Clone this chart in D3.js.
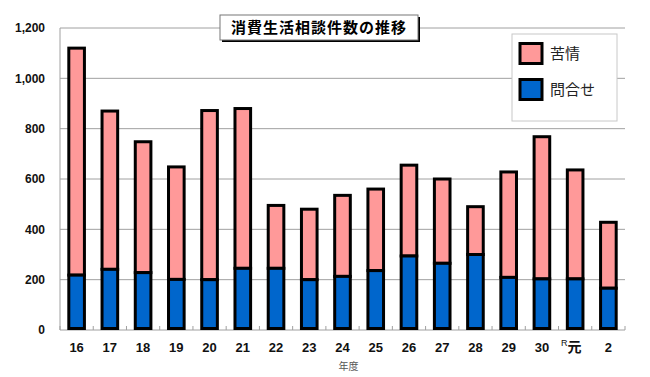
<!DOCTYPE html>
<html>
<head>
<meta charset="utf-8">
<script src="https://cdn.jsdelivr.net/npm/d3@7"></script>
<style>
  body { margin: 0; background: #fff; }
  text { font-family: "Liberation Sans", Arial, sans-serif; }
  .jp { font-family: "Noto Sans CJK JP", sans-serif; }
</style>
</head>
<body>
<div id="chart"></div>
<script>
// 年度
const years = ["16","17","18","19","20","21","22","23","24","25","26","27","28","29","30","元","2"];
// 問合せ (blue, bottom)
const inquiries = [218, 241, 228, 201, 200, 245, 245, 200, 213, 236, 294, 265, 300, 209, 203, 203, 166];
// 苦情 (pink, top)
const complaints = [902, 629, 520, 447, 672, 635, 250, 280, 322, 324, 361, 335, 190, 419, 565, 433, 262];
const yTicks = [0, 200, 400, 600, 800, 1000, 1200];

const W = 650, H = 377;
const margin = {top: 28, right: 25, bottom: 47, left: 60},
      width = W - margin.left - margin.right,
      height = H - margin.top - margin.bottom;

const svgRoot = d3.select("#chart").append("svg")
  .attr("width", W).attr("height", H);
const svg = svgRoot.append("g")
  .attr("transform", `translate(${margin.left},${margin.top})`);

const x = d3.scaleBand().domain(years).range([0, width]).paddingInner(0.53).paddingOuter(0.265);
const y = d3.scaleLinear().domain([0, 1200]).range([height, 0]);

// gridlines
svg.selectAll(".grid").data(yTicks.filter(d => d > 0)).enter()
  .append("line")
  .attr("x1", 0).attr("x2", width)
  .attr("y1", d => y(d)).attr("y2", d => y(d))
  .attr("stroke", "#a0a0a0").attr("stroke-width", 1);

// y axis labels
svg.selectAll(".ylab").data(yTicks).enter()
  .append("text")
  .attr("x", -15).attr("y", d => y(d)).attr("dy", "0.35em")
  .attr("text-anchor", "end")
  .attr("font-size", 12).attr("font-weight", "bold").attr("fill", "#111")
  .text(d => d3.format(",")(d));

// axis lines
svg.append("line").attr("x1", 0).attr("x2", 0).attr("y1", 0).attr("y2", height)
  .attr("stroke", "#a0a0a0");
svg.append("line").attr("x1", 0).attr("x2", width).attr("y1", height).attr("y2", height)
  .attr("stroke", "#a0a0a0");
const step = x.step();
svg.selectAll(".xtick").data(d3.range(years.length + 1)).enter()
  .append("line")
  .attr("x1", i => i * step).attr("x2", i => i * step)
  .attr("y1", height - 4).attr("y2", height)
  .attr("stroke", "#a0a0a0");

// bars
const data = years.map((yr, i) => ({yr, q: inquiries[i], c: complaints[i]}));
const bw = x.bandwidth();

svg.selectAll(".bar-c").data(data).enter()
  .append("rect")
  .attr("x", d => x(d.yr))
  .attr("y", d => y(d.q + d.c))
  .attr("width", bw)
  .attr("height", d => y(d.q) - y(d.q + d.c))
  .attr("fill", "#ff9999").attr("stroke", "#000").attr("stroke-width", 3);

svg.selectAll(".bar-q").data(data).enter()
  .append("rect")
  .attr("x", d => x(d.yr))
  .attr("y", d => y(d.q))
  .attr("width", bw)
  .attr("height", d => y(0) - y(d.q) - 1.5)
  .attr("fill", "#0066cc").attr("stroke", "#000").attr("stroke-width", 3);

// x labels
const xl = svg.selectAll(".xlab").data(years).enter()
  .append("text")
  .attr("x", d => x(d) + bw / 2)
  .attr("y", height + 22)
  .attr("text-anchor", "middle")
  .attr("font-size", 13).attr("font-weight", "bold").attr("fill", "#111");
xl.each(function(d) {
  const t = d3.select(this);
  if (d === "元") {
    t.append("tspan").attr("font-size", 9).attr("font-weight", "normal")
      .attr("dy", -6).attr("dx", -4).text("R");
    t.append("tspan").attr("class", "jp").attr("font-size", 14).attr("dy", 6).text("元");
  } else {
    t.text(d);
  }
});

svg.append("text").attr("class", "jp")
  .attr("x", x("24") + bw / 2 + 6).attr("y", height + 40)
  .attr("text-anchor", "middle").attr("font-size", 10).attr("fill", "#555")
  .text("年度");

// title box
const tg = svgRoot.append("g").attr("transform", "translate(220,15)");
tg.append("rect").attr("x", 2).attr("y", 2).attr("width", 198).attr("height", 25).attr("fill", "#000");
tg.append("rect").attr("x", 0).attr("y", 0).attr("width", 198).attr("height", 25)
  .attr("fill", "#fff").attr("stroke", "#777").attr("stroke-width", 1);
tg.append("text").attr("class", "jp")
  .attr("x", 99).attr("y", 13).attr("dy", "0.35em").attr("text-anchor", "middle")
  .attr("font-size", 15).attr("font-weight", "bold").attr("letter-spacing", 1)
  .text("消費生活相談件数の推移");

// legend
const lg = svgRoot.append("g").attr("transform", "translate(512,34)");
lg.append("rect").attr("width", 105).attr("height", 87)
  .attr("fill", "#fff").attr("stroke", "#c8c8c8").attr("stroke-width", 1);
const legendItems = [{name: "苦情", color: "#ff9999"}, {name: "問合せ", color: "#0066cc"}];
legendItems.forEach((it, i) => {
  lg.append("rect").attr("x", 8).attr("y", 9.5 + i * 36).attr("width", 22).attr("height", 20)
    .attr("fill", it.color).attr("stroke", "#000").attr("stroke-width", 3);
  lg.append("text").attr("class", "jp")
    .attr("x", 38).attr("y", 19.5 + i * 36).attr("dy", "0.35em")
    .attr("font-size", 15).attr("fill", "#222")
    .text(it.name);
});
</script>
</body>
</html>
